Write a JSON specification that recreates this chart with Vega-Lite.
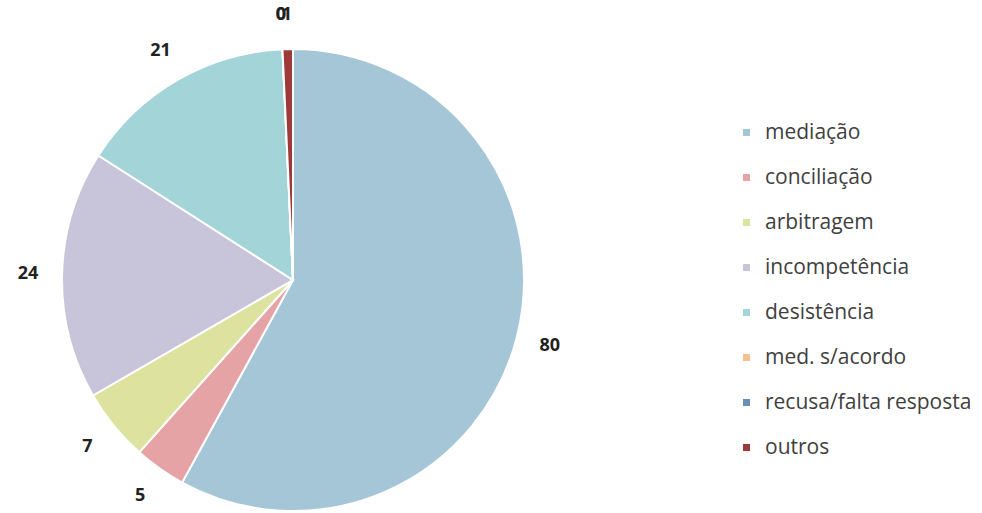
{
  "$schema": "https://vega.github.io/schema/vega-lite/v6.json",
  "width": 586,
  "height": 466,
  "autosize": {"type": "none"},
  "padding": {"left": 0, "top": 47, "right": 396, "bottom": 0},
  "background": "white",
  "data": {
    "values": [
      {"i": 1, "categoria": "mediação", "valor": 80},
      {"i": 2, "categoria": "conciliação", "valor": 5},
      {"i": 3, "categoria": "arbitragem", "valor": 7},
      {"i": 4, "categoria": "incompetência", "valor": 24},
      {"i": 5, "categoria": "desistência", "valor": 21},
      {"i": 6, "categoria": "med. s/acordo", "valor": 0},
      {"i": 7, "categoria": "recusa/falta resposta", "valor": 0},
      {"i": 8, "categoria": "outros", "valor": 1}
    ]
  },
  "encoding": {
    "theta": {"field": "valor", "type": "quantitative", "stack": true},
    "order": {"field": "i", "type": "quantitative"},
    "color": {
      "field": "categoria",
      "type": "nominal",
      "sort": ["mediação", "conciliação", "arbitragem", "incompetência", "desistência", "med. s/acordo", "recusa/falta resposta", "outros"],
      "scale": {
        "domain": ["mediação", "conciliação", "arbitragem", "incompetência", "desistência", "med. s/acordo", "recusa/falta resposta", "outros"],
        "range": ["#a5c6d6", "#e5a3a5", "#dde39f", "#c8c5db", "#a3d4d8", "#f7c08f", "#6a8fb5", "#9c3a3a"]
      },
      "legend": {
        "orient": "none",
        "legendX": 736,
        "legendY": 75,
        "title": null,
        "symbolType": "square",
        "symbolSize": 49,
        "symbolStrokeWidth": 0,
        "labelFont": "Open Sans",
        "labelFontSize": 21,
        "labelColor": "#404040",
        "labelOffset": 8,
        "rowPadding": 23,
        "labelLimit": 300
      }
    }
  },
  "layer": [
    {
      "mark": {"type": "arc", "outerRadius": 231, "stroke": "white", "strokeWidth": 2}
    },
    {
      "mark": {"type": "text", "radius": 265, "font": "Open Sans", "fontSize": 18, "fontWeight": "bold", "fill": "#222222"},
      "encoding": {
        "text": {"field": "valor", "type": "quantitative"},
        "color": {"value": "#222222"}
      }
    }
  ]
}
